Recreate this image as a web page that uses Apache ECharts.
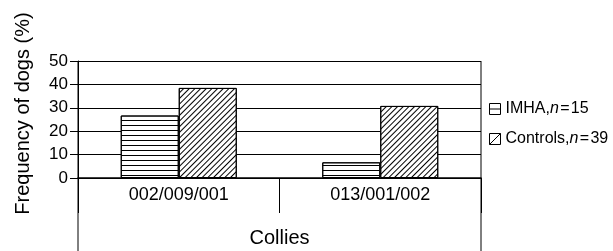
<!DOCTYPE html>
<html>
<head>
<meta charset="utf-8">
<script src="https://cdn.jsdelivr.net/npm/echarts@6/dist/echarts.min.js"></script>
<style>
html, body { margin: 0; padding: 0; background: #fff; }
#main { width: 613px; height: 251px; }
</style>
</head>
<body>
<div id="main"></div>
<script>
// 数据
var categories = ['002/009/001', '013/001/002'];
var seriesNames = ['IMHA', 'Controls'];
var groupSizes = [15, 39];
var imhaValues = [26.7, 6.7];
var controlValues = [38.5, 30.8];
var yTicks = [0, 10, 20, 30, 40, 50];

var FONT = 'Liberation Sans, Arial, sans-serif';
var gridLeft = 78, gridTop = 61, gridWidth = 403, gridHeight = 117;

var chart = echarts.init(document.getElementById('main'));

var option = {
	animation: false,
	backgroundColor: '#fff',
	textStyle: { fontFamily: FONT, color: '#000' },
	grid: { left: gridLeft, top: gridTop, width: gridWidth, height: gridHeight },
	legend: {
		orient: 'vertical',
		left: 484,
		top: 96,
		itemGap: 14,
		itemWidth: 11,
		itemHeight: 11,
		data: [
			{ name: seriesNames[0], icon: 'path://M0,0H12V12H0Z M0,6H12' },
			{ name: seriesNames[1], icon: 'path://M0,0H12V12H0Z M0,12L12,0' }
		],
		itemStyle: { color: '#fff', borderColor: '#000', borderWidth: 1, decal: 'none' },
		formatter: function (name) {
			var i = seriesNames.indexOf(name);
			return '{a|' + name + ',}{i|n}{a|\u200a=\u200a' + groupSizes[i] + '}';
		},
		textStyle: {
			fontFamily: FONT,
			fontSize: 16,
			color: '#000',
			rich: {
				a: { fontFamily: FONT, fontSize: 16, color: '#000' },
				i: { fontFamily: FONT, fontSize: 16, color: '#000', fontStyle: 'italic' }
			}
		}
	},
	xAxis: {
		type: 'category',
		data: categories,
		name: 'Collies',
		nameLocation: 'middle',
		nameGap: 50,
		nameTextStyle: { fontFamily: FONT, fontSize: 20, color: '#000' },
		axisLine: { lineStyle: { color: '#000', width: 1.5 } },
		axisTick: { show: true, length: 35, alignWithLabel: false, lineStyle: { color: '#000' } },
		axisLabel: { fontFamily: FONT, fontSize: 18, color: '#000', margin: 8 }
	},
	yAxis: {
		type: 'value',
		min: 0,
		max: 50,
		interval: 10,
		name: 'Frequency of dogs (%)',
		nameLocation: 'middle',
		nameGap: 45,
		nameTextStyle: { fontFamily: FONT, fontSize: 20, color: '#000', padding: [0, 0, 0, 12] },
		axisLine: { show: true, lineStyle: { color: '#000', width: 1 } },
		axisTick: { show: true, length: 8, lineStyle: { color: '#000' } },
		axisLabel: {
			fontFamily: FONT, fontSize: 17, color: '#000', margin: 10,
			formatter: function (v) { return yTicks.indexOf(v) >= 0 ? String(v) : ''; }
		},
		splitLine: { show: true, lineStyle: { color: '#000', width: 1 } }
	},
	series: [
		{
			name: seriesNames[0],
			type: 'bar',
			data: imhaValues,
			barWidth: 58,
			barGap: '0%',
			itemStyle: {
				color: '#fff',
				borderColor: '#000',
				borderWidth: 1,
				decal: { symbol: 'rect', symbolSize: 1, color: '#000', dashArrayX: [1, 0], dashArrayY: [1, 4], rotation: 0 }
			}
		},
		{
			name: seriesNames[1],
			type: 'bar',
			data: controlValues,
			barWidth: 58,
			barGap: '0%',
			itemStyle: {
				color: '#fff',
				borderColor: '#000',
				borderWidth: 1,
				decal: { symbol: 'rect', symbolSize: 1, color: '#000', dashArrayX: [1, 0], dashArrayY: [1, 3], rotation: -Math.PI / 4 }
			}
		}
	],
	// 外框竖线
	graphic: [
		{ type: 'line', shape: { x1: gridLeft, y1: gridTop, x2: gridLeft, y2: 251 }, style: { stroke: '#000', lineWidth: 1 } },
		{ type: 'line', shape: { x1: gridLeft + gridWidth, y1: gridTop, x2: gridLeft + gridWidth, y2: 251 }, style: { stroke: '#000', lineWidth: 1 } }
	]
};

chart.setOption(option);
</script>
</body>
</html>
